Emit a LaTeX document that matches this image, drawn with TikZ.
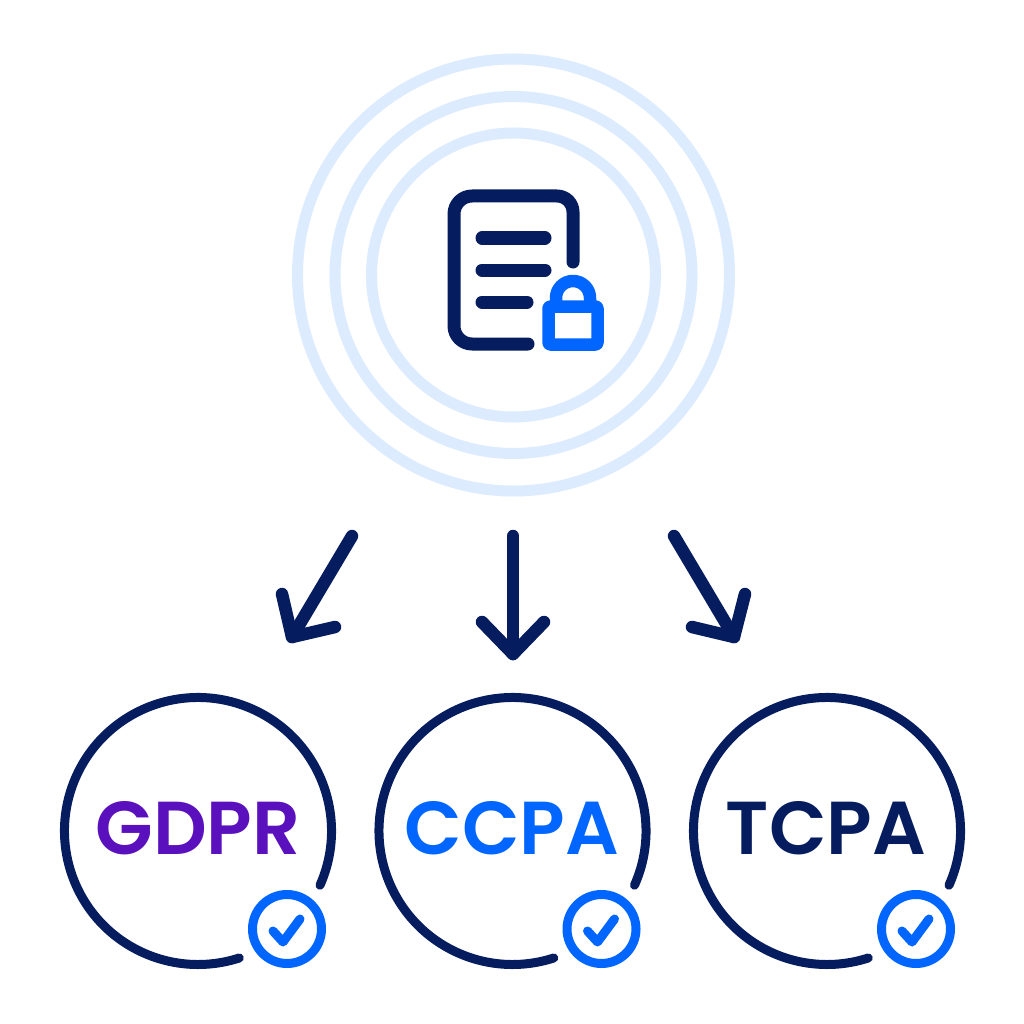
\documentclass[tikz,border=0pt]{standalone}
\usepackage{fontspec}
\setmainfont{Poppins SemiBold}
\definecolor{navy}{HTML}{051C5E}
\definecolor{bright}{HTML}{0066FF}
\definecolor{violet2}{HTML}{5B10BE}
\definecolor{ring}{HTML}{DCEBFD}
\tikzset{
  ringline/.style={draw=ring,line width=11pt},
  docline/.style={draw=navy,line width=13pt,line cap=round,line join=round},
  lockline/.style={draw=bright,line width=12.5pt,line join=round},
  arrowline/.style={draw=navy,line width=12.5pt,line cap=round,line join=round},
  seal/.style={draw=navy,line width=9pt,line cap=round},
  badge/.style={draw=bright,line width=9pt},
  tick/.style={draw=bright,line width=9pt,line cap=round,line join=round},
  lawtext/.style={font=\fontsize{75}{75}\selectfont,anchor=base,inner sep=0pt},
}
\newcommand{\lawseal}[4]{%
  \draw[seal] ([shift={(24:133.5)}]#1,831) arc[start angle=24,end angle=-288,radius=133.5];
  \node[lawtext,text=#3] (#2) at (#4,854.5) {#2};
  \draw[badge] (#1+89,929) circle[radius=34.5];
  \draw[tick] (#1+75,931) -- (#1+85,942) -- (#1+102,919);
}
\begin{document}
\begin{tikzpicture}[x=1pt,y=-1pt]
\useasboundingbox (0,0) rectangle (1024,1024);
\fill[white] (0,0) rectangle (1024,1024);
% rings
\coordinate (hub) at (513.5,275);
\draw[ringline] (hub) circle[radius=216];
\draw[ringline] (hub) circle[radius=178.5];
\draw[ringline] (hub) circle[radius=142];
% document
\draw[docline] (573,262) -- (573,212) arc[start angle=0,end angle=-90,radius=16] -- (472,196) arc[start angle=-90,end angle=-180,radius=18] -- (454,326) arc[start angle=180,end angle=90,radius=18] -- (528,344);
\draw[docline] (482,238) -- (545,238);
\draw[docline] (482,270) -- (545,270);
\draw[docline] (482,302) -- (527,302);
% lock
\draw[lockline] (556,306) -- (556,298) arc[start angle=180,end angle=360,radius=17] -- (590,306);
\draw[lockline,rounded corners=2pt] (548.5,306.5) rectangle (597.5,344.5);
% arrows
\coordinate (la) at (352,536); \coordinate (lb) at (292,637);
\coordinate (lc) at (282,594); \coordinate (ld) at (335,627);
\draw[arrowline] (la) -- (lb);
\draw[arrowline] (lc) -- (lb) -- (ld);
\coordinate (ma) at (513,536); \coordinate (mb) at (513,654);
\coordinate (mc) at (482,622); \coordinate (md) at (544,622);
\draw[arrowline] (ma) -- (mb);
\draw[arrowline] (mc) -- (mb) -- (md);
\coordinate (ra) at (674,536); \coordinate (rb) at (734,637);
\coordinate (rc) at (745,594); \coordinate (rd) at (692,627);
\draw[arrowline] (ra) -- (rb);
\draw[arrowline] (rc) -- (rb) -- (rd);
% seals
\lawseal{198}{GDPR}{violet2}{198}
\lawseal{512.5}{CCPA}{bright}{512}
\lawseal{827}{TCPA}{navy}{826}
\end{tikzpicture}
\end{document}
